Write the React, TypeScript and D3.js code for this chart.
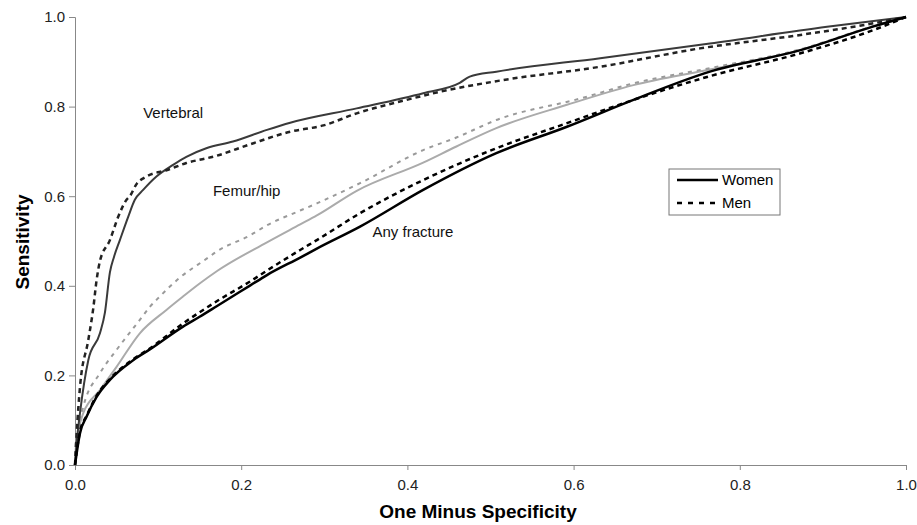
import React, { useEffect, useRef } from "react";
import * as d3 from "d3";

// [one minus specificity, sensitivity]
const vertebralWomen: [number, number][] = [
  [0, 0], [0.002, 0.05], [0.006, 0.116], [0.016, 0.234], [0.03, 0.294], [0.036, 0.34],
  [0.042, 0.43], [0.047, 0.465], [0.054, 0.502], [0.064, 0.554], [0.072, 0.592], [0.082, 0.614],
  [0.098, 0.644], [0.118, 0.67], [0.134, 0.688], [0.158, 0.707], [0.19, 0.722], [0.231, 0.748],
  [0.259, 0.764], [0.339, 0.796], [0.419, 0.83], [0.463, 0.853], [0.475, 0.867], [0.507, 0.878],
  [0.632, 0.908], [0.764, 0.941], [0.905, 0.978], [1, 1],
];
const vertebralMen: [number, number][] = [
  [0, 0], [0.002, 0.07], [0.006, 0.174], [0.016, 0.279], [0.022, 0.35], [0.026, 0.413],
  [0.03, 0.455], [0.042, 0.502], [0.052, 0.554], [0.062, 0.592], [0.066, 0.6], [0.074, 0.627],
  [0.086, 0.644], [0.11, 0.658], [0.134, 0.674], [0.17, 0.69], [0.211, 0.716], [0.259, 0.744],
  [0.299, 0.758], [0.339, 0.785], [0.399, 0.815], [0.439, 0.833], [0.511, 0.858], [0.632, 0.889],
  [0.752, 0.93], [0.873, 0.96], [0.961, 0.986], [1, 1],
];
const femurWomen: [number, number][] = [
  [0, 0], [0.001, 0.04], [0.01, 0.116], [0.03, 0.167], [0.05, 0.219], [0.078, 0.294],
  [0.11, 0.346], [0.13, 0.376], [0.15, 0.405], [0.171, 0.433], [0.231, 0.497], [0.271, 0.537],
  [0.291, 0.557], [0.339, 0.612], [0.419, 0.675], [0.459, 0.711], [0.507, 0.752], [0.592, 0.804],
  [0.672, 0.848], [0.764, 0.883], [0.873, 0.926], [0.961, 0.979], [1, 1],
];
const femurMen: [number, number][] = [
  [0, 0], [0.001, 0.05], [0.01, 0.13], [0.03, 0.205], [0.05, 0.257], [0.078, 0.324],
  [0.09, 0.353], [0.102, 0.376], [0.126, 0.418], [0.158, 0.46], [0.171, 0.477], [0.211, 0.513],
  [0.231, 0.535], [0.271, 0.568], [0.291, 0.584], [0.343, 0.629], [0.419, 0.703], [0.459, 0.731],
  [0.507, 0.77], [0.608, 0.818], [0.672, 0.852], [0.764, 0.886], [0.873, 0.928], [0.961, 0.98], [1, 1],
];
const anyWomen: [number, number][] = [
  [0, 0], [0.006, 0.071], [0.014, 0.108], [0.026, 0.152], [0.042, 0.19], [0.07, 0.234],
  [0.09, 0.258], [0.13, 0.309], [0.15, 0.331], [0.171, 0.355], [0.211, 0.401], [0.231, 0.424],
  [0.271, 0.463], [0.291, 0.483], [0.343, 0.532], [0.419, 0.614], [0.507, 0.696], [0.592, 0.755],
  [0.672, 0.815], [0.764, 0.878], [0.873, 0.926], [0.961, 0.979], [1, 1],
];
const anyMen: [number, number][] = [
  [0, 0], [0.006, 0.075], [0.014, 0.11], [0.026, 0.155], [0.042, 0.192], [0.07, 0.236],
  [0.09, 0.26], [0.13, 0.316], [0.15, 0.341], [0.171, 0.366], [0.211, 0.41], [0.231, 0.434],
  [0.271, 0.48], [0.291, 0.502], [0.343, 0.562], [0.419, 0.636], [0.507, 0.707], [0.592, 0.763],
  [0.672, 0.815], [0.764, 0.868], [0.873, 0.919], [0.961, 0.971], [1, 1],
];

const ticks = [0, 0.2, 0.4, 0.6, 0.8, 1.0];
const curveLabels = [
  { text: "Vertebral", x: 0.082, y: 0.775 },
  { text: "Femur/hip", x: 0.166, y: 0.6 },
  { text: "Any fracture", x: 0.358, y: 0.51 },
];

const series = [
  { data: femurWomen, color: "#ababab", width: 2, dash: null },
  { data: femurMen, color: "#9a9a9a", width: 2, dash: "4,5" },
  { data: vertebralWomen, color: "#3a3a3a", width: 2, dash: null },
  { data: vertebralMen, color: "#222", width: 2.5, dash: "5,4" },
  { data: anyWomen, color: "#000", width: 2.5, dash: null },
  { data: anyMen, color: "#000", width: 2.5, dash: "5,4" },
];

const App = () => {
  const ref = useRef<SVGSVGElement>(null);

  useEffect(() => {
    const svg = d3.select(ref.current);
    svg.selectAll("*").remove();

    const x = d3.scaleLinear().domain([0, 1]).range([75, 906]);
    const y = d3.scaleLinear().domain([0, 1]).range([465, 17]);
    const font = "Liberation Sans, Arial, sans-serif";

    // Y axis
    const yAxis = svg
      .append("g")
      .attr("transform", "translate(75,0)")
      .call(d3.axisLeft(y).tickValues(ticks).tickFormat(d3.format(".1f")).tickSize(6).tickPadding(4));
    yAxis.selectAll("path, line").attr("stroke", "#888");
    yAxis.selectAll("text").attr("font-family", font).attr("font-size", 15).attr("fill", "#222");

    // X axis
    const xAxis = svg
      .append("g")
      .attr("transform", "translate(0,465)")
      .call(d3.axisBottom(x).tickValues(ticks).tickFormat(d3.format(".1f")).tickSize(5).tickPadding(9));
    xAxis.selectAll("path, line").attr("stroke", "#888");
    xAxis.selectAll("text").attr("font-family", font).attr("font-size", 15).attr("fill", "#222");

    // Lines
    const line = d3
      .line<[number, number]>()
      .x((d) => x(d[0]))
      .y((d) => y(d[1]))
      .curve(d3.curveMonotoneX);

    series.forEach((s) => {
      svg
        .append("path")
        .attr("d", line(s.data))
        .attr("fill", "none")
        .attr("stroke", s.color)
        .attr("stroke-width", s.width)
        .attr("stroke-dasharray", s.dash);
    });

    // Curve labels
    svg
      .selectAll(".curve-label")
      .data(curveLabels)
      .join("text")
      .attr("x", (d) => x(d.x))
      .attr("y", (d) => y(d.y))
      .attr("font-family", font)
      .attr("font-size", 15)
      .attr("fill", "#111")
      .text((d) => d.text);

    // Axis titles
    svg
      .append("text")
      .attr("x", 478)
      .attr("y", 518)
      .attr("text-anchor", "middle")
      .attr("font-family", font)
      .attr("font-weight", "bold")
      .attr("font-size", 19)
      .text("One Minus Specificity");

    svg
      .append("text")
      .attr("transform", "translate(29,242) rotate(-90)")
      .attr("text-anchor", "middle")
      .attr("font-family", font)
      .attr("font-weight", "bold")
      .attr("font-size", 19)
      .text("Sensitivity");

    // Legend
    const legend = svg.append("g").attr("transform", "translate(669,169)");
    legend
      .append("rect")
      .attr("width", 111)
      .attr("height", 46)
      .attr("fill", "#fff")
      .attr("stroke", "#777")
      .attr("stroke-width", 1);
    const items = [
      { label: "Women", dash: null },
      { label: "Men", dash: "5,6" },
    ];
    items.forEach((it, i) => {
      const ly = 11 + i * 23;
      legend
        .append("line")
        .attr("x1", 8)
        .attr("x2", 49)
        .attr("y1", ly)
        .attr("y2", ly)
        .attr("stroke", "#000")
        .attr("stroke-width", 2.5)
        .attr("stroke-dasharray", it.dash);
      legend
        .append("text")
        .attr("x", 53)
        .attr("y", ly + 5)
        .attr("font-family", font)
        .attr("font-size", 15)
        .text(it.label);
    });
  }, []);

  return (
    <svg
      ref={ref}
      width={917}
      height={525}
      style={{ position: "absolute", left: 0, top: 0, background: "#fff" }}
    />
  );
};

export default App;
